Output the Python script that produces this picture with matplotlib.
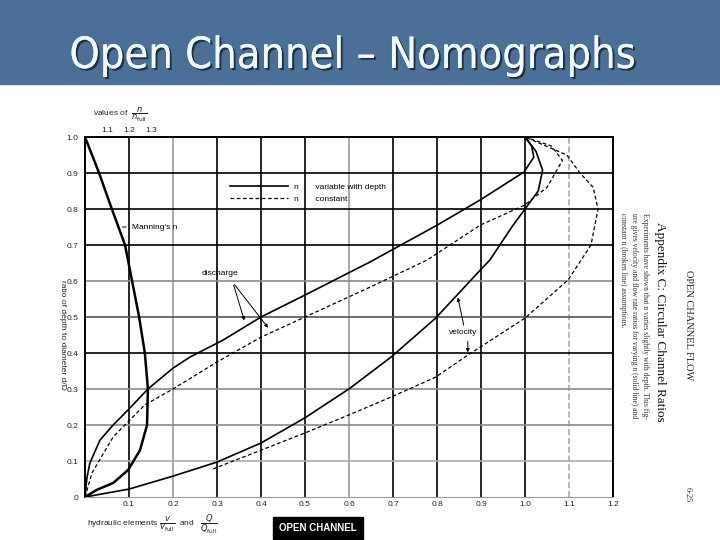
import matplotlib
matplotlib.use("Agg")
import matplotlib.pyplot as plt
import matplotlib.patheffects as pe
from matplotlib.lines import Line2D

plt.rcParams['font.family'] = ['Liberation Sans', 'DejaVu Sans']

# ---- values read off the nomograph (x = hydraulic element, y = d/D) ----
dis_var_x = [0, 0.004, 0.011, 0.034, 0.064, 0.102, 0.143, 0.2, 0.239, 0.314, 0.4, 0.5,
             0.648, 0.8, 0.898, 0.998, 1.02, 1.015, 1.0]
dis_var_y = [0, 0.05, 0.094, 0.158, 0.2, 0.247, 0.3, 0.358, 0.389, 0.436, 0.5, 0.561,
             0.653, 0.755, 0.825, 0.903, 0.944, 0.975, 1.0]

dis_con_x = [0, 0.016, 0.064, 0.136, 0.2, 0.3, 0.4, 0.5, 0.648, 0.777, 0.898, 0.998,
             1.05, 1.085, 1.06, 1.0]
dis_con_y = [0, 0.067, 0.167, 0.256, 0.3, 0.375, 0.444, 0.5, 0.583, 0.658, 0.755, 0.81,
             0.86, 0.935, 0.975, 1.0]

vel_var_x = [0, 0.1, 0.2, 0.3, 0.4, 0.5, 0.602, 0.697, 0.797, 0.898, 0.92, 0.97,
             1.03, 1.04, 1.025, 1.0]
vel_var_y = [0, 0.022, 0.058, 0.097, 0.15, 0.22, 0.302, 0.39, 0.497, 0.63, 0.658, 0.75,
             0.85, 0.908, 0.96, 1.0]

vel_con_x = [0.291, 0.4, 0.5, 0.6, 0.7, 0.797, 0.87, 1.0, 1.098, 1.15, 1.166, 1.155,
             1.125, 1.095, 1.0]
vel_con_y = [0.078, 0.13, 0.178, 0.228, 0.28, 0.333, 0.394, 0.497, 0.603, 0.7, 0.8, 0.86,
             0.9, 0.95, 1.0]

# Manning's n as n/n_full
mann_ratio = [1.0, 1.064, 1.122, 1.182, 1.214, 1.246, 1.272, 1.286, 1.282, 1.25, 1.196,
              1.128, 1.054, 1.0]
mann_y = [1.0, 0.9, 0.8, 0.7, 0.6, 0.5, 0.4, 0.3, 0.2, 0.13, 0.075, 0.039, 0.02, 0.0]

x_ticks = [0.1, 0.2, 0.3, 0.4, 0.5, 0.6, 0.7, 0.8, 0.9, 1.0, 1.1, 1.2]
y_ticks = [0, 0.1, 0.2, 0.3, 0.4, 0.5, 0.6, 0.7, 0.8, 0.9, 1.0]
n_ticks = [1.1, 1.2, 1.3]

# grid line colours (scanned chart, some lines faint)
vgrid_col = ['k', '#9a9a9a', 'k', 'k', 'k', '#9a9a9a', 'k', 'k', 'k', 'k', '#aaaaaa']
hgrid_col = ['#aaaaaa', '#8a8a8a', '#8a8a8a', 'k', '#555555', '#8a8a8a', 'k', 'k', 'k']


def to_x(r):
    return (r - 1.0) / 2.0


def to_n(x):
    return 1.0 + 2.0 * x


fig = plt.figure(figsize=(7.2, 5.4), dpi=100)

# slide header
fig.patches.append(plt.Rectangle((0, 1 - 84 / 540), 1, 84 / 540, transform=fig.transFigure,
                                 color='#4c6f98', zorder=0))
fig.text(352 / 720, 1 - 56 / 540, "Open Channel \u2013 Nomographs", ha='center', va='center',
         fontsize=31, color='#effbff', family='DejaVu Sans', fontstretch='condensed',
         path_effects=[pe.withSimplePatchShadow(offset=(1.5, -1.5), shadow_rgbFace='#1c2a3c',
                                                 alpha=0.9), pe.Normal()])

ax = fig.add_axes([85 / 720, 43 / 540, 528 / 720, 360 / 540])
ax.set_xlim(0, 1.2)
ax.set_ylim(0, 1.0)

for xv, c in zip(x_ticks[:-1], vgrid_col):
    ls = '--' if xv == 1.1 else '-'
    ax.axvline(xv, color=c, lw=1.2, ls=ls, zorder=1)
for yv, c in zip(y_ticks[1:-1], hgrid_col):
    ax.axhline(yv, color=c, lw=1.2, zorder=1)

ax.plot(dis_var_x, dis_var_y, color='k', lw=1.2, zorder=3)
ax.plot(dis_con_x, dis_con_y, color='k', lw=0.9, ls=(0, (3, 2)), zorder=3)
ax.plot(vel_var_x, vel_var_y, color='k', lw=1.2, zorder=3)
ax.plot(vel_con_x, vel_con_y, color='k', lw=0.9, ls=(0, (3, 2)), zorder=3)
ax.plot([to_x(r) for r in mann_ratio], mann_y, color='k', lw=1.8, zorder=3)

ax.set_xticks(x_ticks)
ax.set_xticklabels(["%.1f" % v for v in x_ticks])
ax.set_yticks(y_ticks)
ax.set_yticklabels(["0"] + ["%.1f" % v for v in y_ticks[1:]])
ax.tick_params(length=0, labelsize=6, colors='#222222', pad=5)
ax.tick_params(axis='x', pad=3)
for s in ['left', 'top', 'right']:
    ax.spines[s].set_linewidth(1.4)
ax.spines['bottom'].set_color('#999999')
ax.spines['bottom'].set_linewidth(0.8)

top = ax.secondary_xaxis('top', functions=(to_n, to_x))
top.set_xticks(n_ticks)
top.tick_params(length=0, labelsize=6, colors='#222222', pad=2)
top.spines['top'].set_visible(False)

# legend
handles = [Line2D([], [], color='k', lw=1.2), Line2D([], [], color='k', lw=0.9, ls=(0, (3, 2)))]
leg = ax.legend(handles, ["n       variable with depth", "n       constant"], loc='upper left',
                bbox_to_anchor=(222 / 720, 1 - 176 / 540), bbox_transform=fig.transFigure,
                frameon=False, fontsize=6, handlelength=7, labelspacing=0.4)

# labels on the curves
ax.annotate("Manning's n", xy=(0.079, 0.75), xytext=(0.106, 0.75), fontsize=6, va='center',
            arrowprops=dict(arrowstyle='-', lw=0.7))
ax.annotate("", xy=(0.364, 0.483), xytext=(0.336, 0.596),
            arrowprops=dict(arrowstyle='-|>', lw=0.7, mutation_scale=5, color='k'))
ax.annotate("", xy=(0.42, 0.464), xytext=(0.336, 0.596),
            arrowprops=dict(arrowstyle='-|>', lw=0.7, mutation_scale=5, color='k'))
ax.text(0.307, 0.622, "discharge", fontsize=6, ha='center', va='center')
ax.annotate("", xy=(0.846, 0.562), xytext=(0.862, 0.47),
            arrowprops=dict(arrowstyle='-|>', lw=0.7, mutation_scale=5, color='k'))
ax.annotate("", xy=(0.87, 0.394), xytext=(0.87, 0.44),
            arrowprops=dict(arrowstyle='-|>', lw=0.7, mutation_scale=5, color='k'))
ax.text(0.859, 0.456, "velocity", fontsize=6, ha='center', va='center',
        bbox=dict(facecolor='white', edgecolor='none', pad=0.5))

# axis titles
fig.text(62 / 720, 1 - 335 / 540, "ratio of depth to diameter d/D", rotation=-90,
         ha='center', va='center', fontsize=6, color='#222222')
fig.text(93 / 720, 1 - 115 / 540, r"values of  $\dfrac{n}{n_{\rm full}}$", ha='left',
         va='center', fontsize=6, color='#222222')
fig.text(87 / 720, 1 - 524 / 540,
         r"hydraulic elements $\dfrac{v}{v_{\rm full}}$  and   $\dfrac{Q}{Q_{\rm full}}$",
         ha='left', va='center', fontsize=6, color='#222222')

# page text on the right
fig.text(688 / 720, 1 - 325 / 540, "OPEN CHANNEL FLOW", rotation=-90, ha='center',
         va='center', fontsize=7.5, family='Liberation Serif', color='#222222')
fig.text(660 / 720, 1 - 322 / 540, "Appendix C: Circular Channel Ratios", rotation=-90,
         ha='center', va='center', fontsize=9.5, family='Liberation Serif', color='#111111')
notes = ["Experiments have shown that n varies slightly with depth. This fig-",
         "ure gives velocity and flow rate ratios for varying n (solid line) and",
         "constant n (broken line) assumptions."]
for i, line in enumerate(notes):
    fig.text((645 - 11 * i) / 720, 1 - 213 / 540, line, rotation=-90, rotation_mode='anchor',
             ha='left', va='center', fontsize=5.5, family='Liberation Serif', color='#333333')
fig.text(688 / 720, 1 - 495 / 540, "6-25", rotation=-90, ha='center', va='center',
         fontsize=6, family='Liberation Serif', color='#333333')

# footer tag
fig.text(318 / 720, 1 - 528 / 540, "OPEN CHANNEL", ha='center', va='center', fontsize=7,
         weight='bold', color='white',
         bbox=dict(facecolor='black', edgecolor='black', boxstyle='square,pad=0.6'))

fig.savefig("out.png", dpi=100)
